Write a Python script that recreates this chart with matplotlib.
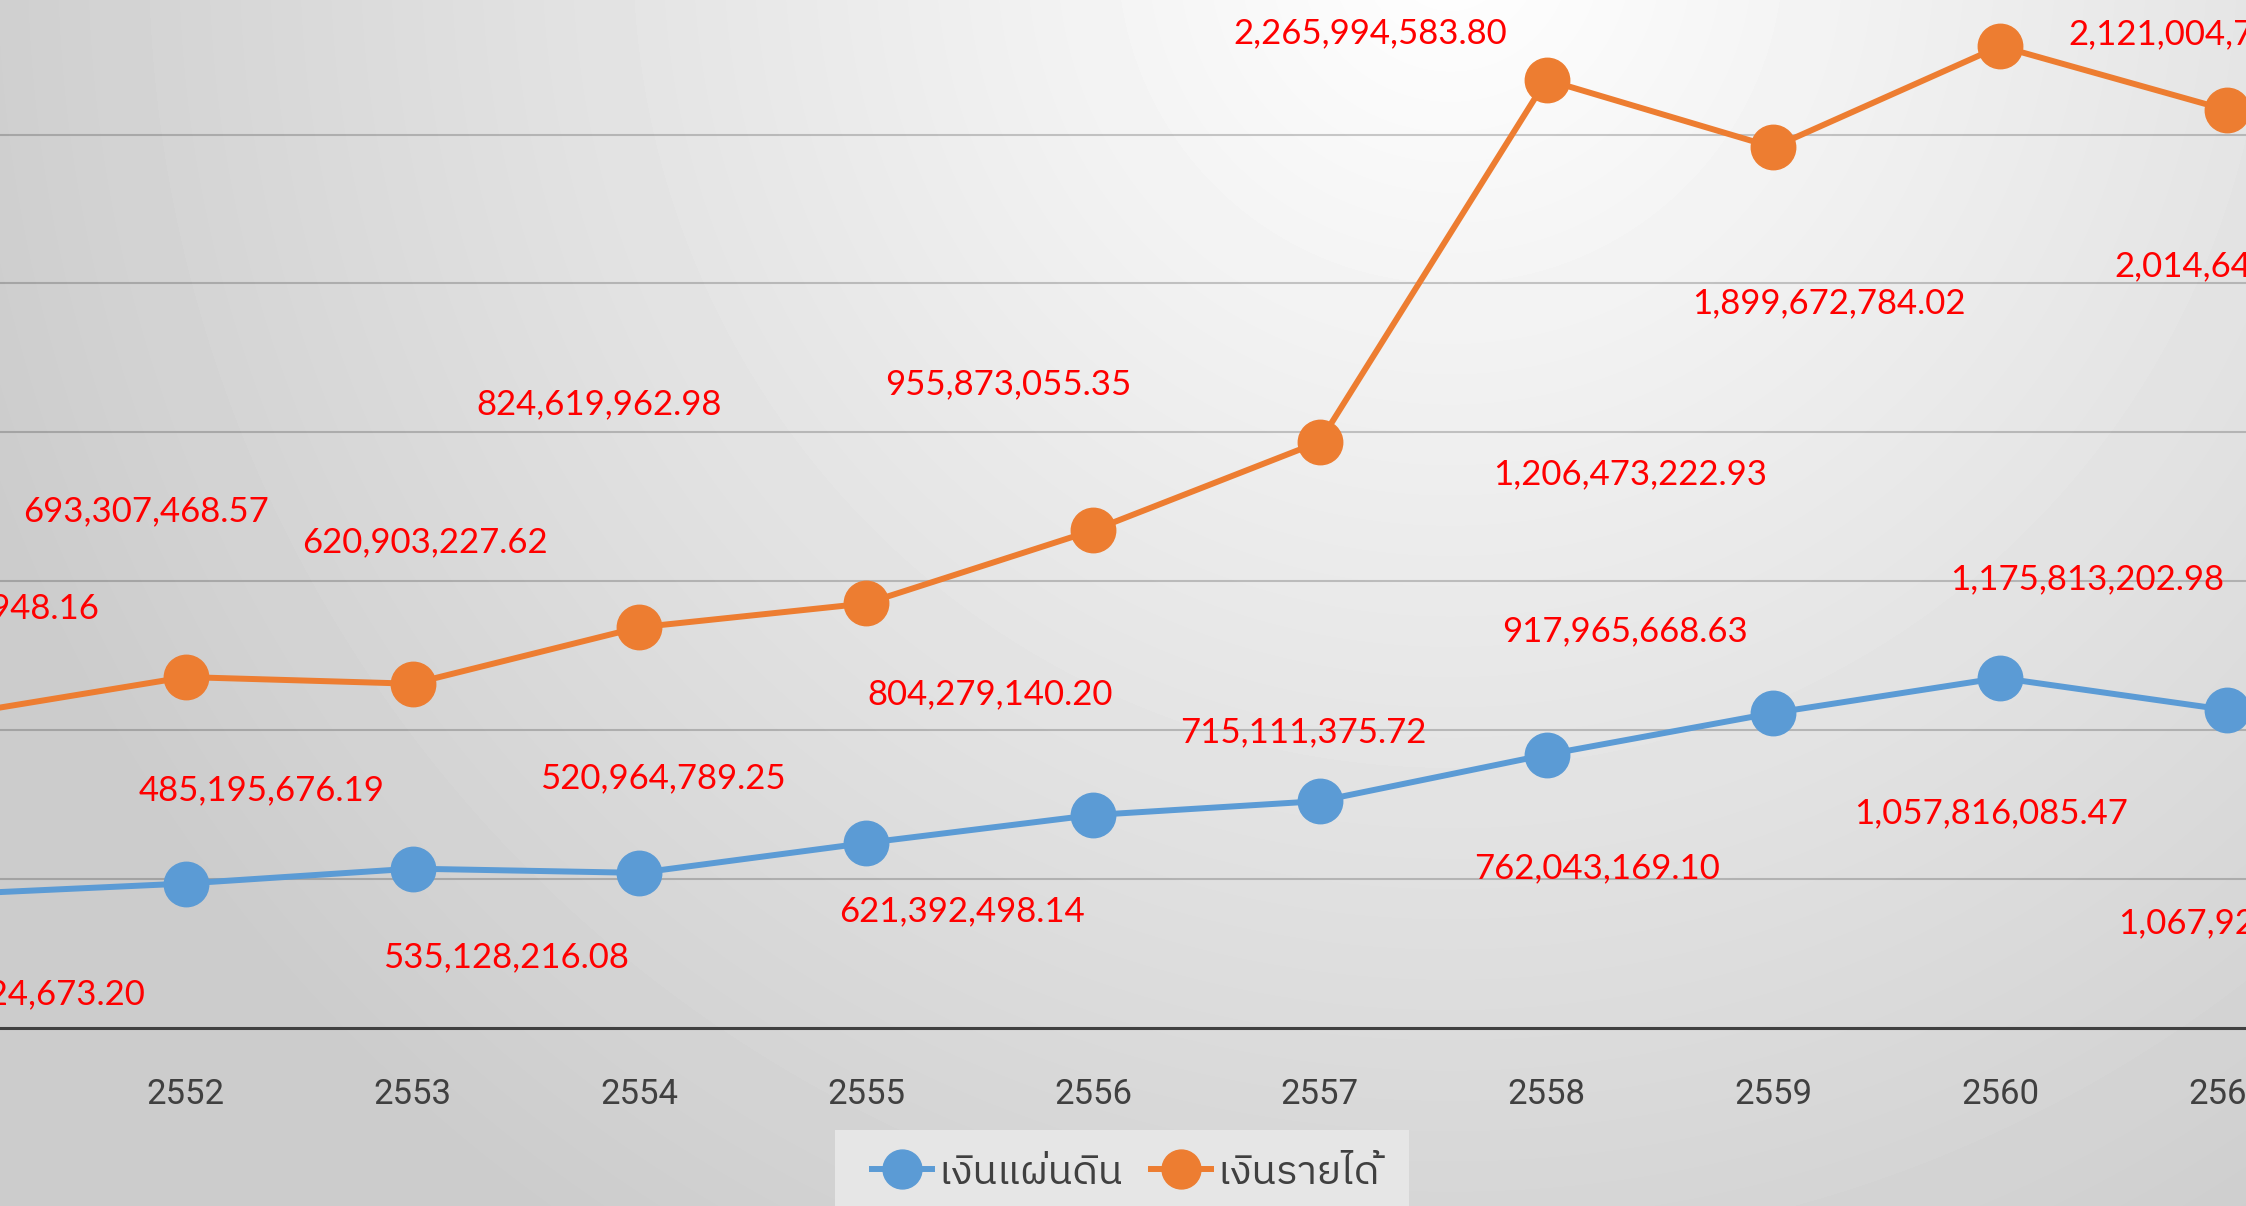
import numpy as np
import matplotlib.pyplot as plt
from matplotlib import font_manager
from matplotlib.ft2font import FT2Font
from matplotlib.lines import Line2D
from matplotlib.patches import Rectangle

# ----- data (stacked line chart, labels show raw values) -----
YEARS = [2551, 2552, 2553, 2554, 2555, 2556, 2557, 2558, 2559, 2560, 2561]
LAND_BUDGET = [450_124_673.20, 485_195_676.19, 535_128_216.08, 520_964_789.25,
               621_392_498.14, 715_111_375.72, 762_043_169.10, 917_965_668.63,
               1_057_816_085.47, 1_175_813_202.98, 1_067_925_480.15]
INCOME_BUDGET = [603_215_948.16, 693_307_468.57, 620_903_227.62, 824_619_962.98,
                 804_279_140.20, 955_873_055.35, 1_206_473_222.93, 2_265_994_583.80,
                 1_899_672_784.02, 2_121_004_756.31, 2_014_645_310.66]
SERIES = ["เงินแผ่นดิน", "เงินรายได้"]

# ----- style -----
W, H, DPI = 2246, 1206, 100
AXIS_Y = 1028                      # pixel row of the x axis line
GRID_PX = 148.9                    # pixels per 500M step
COLORS = ["#5B9BD5", "#ED7D31"]
LABEL_COLOR = "#FF0000"
TEXT_GRAY = "#404040"
LABEL_SIZE = 25
CAP_HALF = 9                       # baseline sits this far below the text centre (px)

# label offsets from each point, in pixels (dx right, dy down to text centre)
LAND_OFFSETS = [(64, 101), (76, -92), (93, 90), (24, -94), (96, 69), (210, -82),
                (277, 68), (78, -122), (218, 101), (87, -98), (28, 214)]
INCOME_OFFSETS = [(17, -105), (-40, -165), (12, -140), (-40, -222), (124, 92), (-85, -145),
                  (310, 33), (-176, -46), (56, 157), (205, -11), (25, 157)]


def find_thai_font() -> str:
    """Return the name of an installed font that has Thai glyphs."""
    candidates = sorted(font_manager.fontManager.ttflist, key=lambda f: "Thai" not in f.name)
    for f in candidates:
        try:
            if 0x0E07 in FT2Font(f.fname).get_charmap():
                return f.name
        except Exception:
            continue
    return "DejaVu Sans"


thai_font = find_thai_font()
plt.rcParams["font.family"] = ["Lato", thai_font, "DejaVu Sans"]

fig = plt.figure(figsize=(W / DPI, H / DPI), dpi=DPI)

# radial gradient background, brightest near the top centre
bg = fig.add_axes([0, 0, 1, 1], zorder=0)
yy, xx = np.mgrid[0:H, 0:W]
dist = np.hypot(xx - 1450, yy + 50)
shade = 1.0 - 0.2 * np.clip(dist / 1550, 0, 1)
bg.imshow(shade, cmap="gray", vmin=0, vmax=1, aspect="auto", interpolation="bilinear")
bg.set_axis_off()

ax = fig.add_axes([0, 1 - AXIS_Y / H, 1, AXIS_Y / H], zorder=1)
ax.patch.set_alpha(0)

land = np.array(LAND_BUDGET)
stacked = land + np.array(INCOME_BUDGET)

for values, raw, color, offsets in [(land, LAND_BUDGET, COLORS[0], LAND_OFFSETS),
                                    (stacked, INCOME_BUDGET, COLORS[1], INCOME_OFFSETS)]:
    ax.plot(YEARS, values, color=color, lw=4.3, marker="o", ms=32, zorder=3,
            solid_capstyle="round")
    for yr, v, r, (dx, dy) in zip(YEARS, values, raw, offsets):
        ax.annotate(f"{r:,.2f}", xy=(yr, v), xytext=(dx, -(dy + CAP_HALF)),
                    textcoords="offset pixels", ha="center", va="baseline",
                    fontsize=LABEL_SIZE, color=LABEL_COLOR, zorder=4,
                    annotation_clip=False)

ax.set_yticks(np.arange(500e6, 3500e6, 500e6))
ax.tick_params(axis="y", left=False, labelleft=False)
ax.grid(axis="y", color="black", alpha=0.2, lw=1.5, zorder=1)
ax.set_xticks(YEARS, [str(y) for y in YEARS])
ax.tick_params(axis="x", length=0, pad=36, labelsize=25, labelcolor=TEXT_GRAY)
for lbl in ax.get_xticklabels():
    lbl.set_family(["Roboto", "DejaVu Sans"])

# x range: 2552 at 185.7 px, 226.8 px per year (set after ticks so it sticks)
x_left = 2552 - 185.7 / 226.8
ax.set_xlim(x_left, x_left + W / 226.8)
ax.set_ylim(0, AXIS_Y / GRID_PX * 500e6)

for side in ["left", "right", "top"]:
    ax.spines[side].set_visible(False)
ax.spines["bottom"].set_color(TEXT_GRAY)
ax.spines["bottom"].set_linewidth(2.2)

# legend with its light box at the bottom centre
fig.patches.append(Rectangle((835 / W, 0), 574 / W, 76 / H, transform=fig.transFigure,
                             facecolor="#e6e6e6", edgecolor="none", zorder=2))
handles = [Line2D([], [], color=c, lw=4.3, marker="o", ms=28) for c in COLORS]
fig.legend(handles, SERIES, loc="center", bbox_to_anchor=(1126 / W, 1 - 1173 / H),
           ncol=2, frameon=False, prop={"family": [thai_font, "DejaVu Sans"], "size": 29},
           labelcolor=TEXT_GRAY, handlelength=1.5, handletextpad=0.15, columnspacing=0.7)

fig.savefig("out.png", dpi=DPI)
